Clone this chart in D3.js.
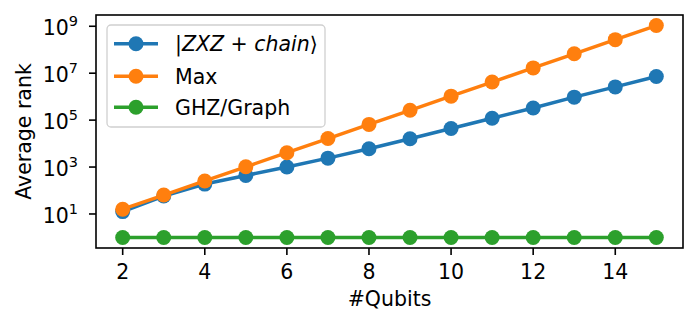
<!DOCTYPE html>
<html>
<head>
<meta charset="utf-8">
<script src="https://cdn.jsdelivr.net/npm/d3@7"></script>
<style>
  body { margin: 0; background: #fff; }
  text { font-family: "DejaVu Sans", sans-serif; fill: #000; }
</style>
</head>
<body>
<svg id="chart" width="698" height="327"></svg>
<script>
var qubits = [2, 3, 4, 5, 6, 7, 8, 9, 10, 11, 12, 13, 14, 15]
var zxzChain = [12.6, 58, 188, 440, 1000, 2400, 6000, 16000, 44000, 120000, 330000, 950000, 2600000, 7200000]
var maxRank = [16, 64, 256, 1024, 4096, 16384, 65536, 262144, 1048576, 4194304, 16777216, 67108864, 268435456, 1073741824]
var ghzGraph = [1, 1, 1, 1, 1, 1, 1, 1, 1, 1, 1, 1, 1, 1]
var xTicks = [2, 4, 6, 8, 10, 12, 14]
var yTickExps = [1, 3, 5, 7, 9]

var series = [
  { name: "zxz", values: zxzChain, color: "#1f77b4" },
  { name: "Max", values: maxRank, color: "#ff7f0e" },
  { name: "GHZ/Graph", values: ghzGraph, color: "#2ca02c" }
]

// plot area in pixels (window.top is reserved, so own names)
var plotL = 96, plotR = 683, plotT = 15, plotB = 248
var fs = "20.5px"

var x = d3.scaleLinear().domain([1.35, 15.65]).range([plotL, plotR])
var y = d3.scaleLog().domain([Math.pow(10, -0.45), Math.pow(10, 9.48)]).range([plotB, plotT])

var svg = d3.select("#chart")
svg.append("rect").attr("width", 698).attr("height", 327).attr("fill", "#fff")

// lines + markers
var line = d3.line()
  .x((d, i) => x(qubits[i]))
  .y(d => y(d))

series.forEach(function(s) {
  var g = svg.append("g")
  g.append("path")
    .attr("d", line(s.values))
    .attr("fill", "none")
    .attr("stroke", s.color)
    .attr("stroke-width", 3.5)
    .attr("stroke-linejoin", "round")
  g.selectAll("circle")
    .data(s.values)
    .enter()
    .append("circle")
    .attr("cx", (d, i) => x(qubits[i]))
    .attr("cy", d => y(d))
    .attr("r", 7.5)
    .attr("fill", s.color)
})

// frame
svg.append("rect")
  .attr("x", plotL).attr("y", plotT)
  .attr("width", plotR - plotL).attr("height", plotB - plotT)
  .attr("fill", "none").attr("stroke", "#000").attr("stroke-width", 1.6)

// x axis
var xg = svg.append("g")
xg.selectAll("line").data(xTicks).enter().append("line")
  .attr("x1", d => x(d)).attr("x2", d => x(d))
  .attr("y1", plotB).attr("y2", plotB + 7)
  .attr("stroke", "#000").attr("stroke-width", 1.6)
xg.selectAll("text").data(xTicks).enter().append("text")
  .attr("x", d => x(d)).attr("y", 279)
  .attr("text-anchor", "middle")
  .style("font-size", fs)
  .text(d => d)

// y axis
var yg = svg.append("g")
yg.selectAll("line").data(yTickExps).enter().append("line")
  .attr("x1", plotL - 7).attr("x2", plotL)
  .attr("y1", d => y(Math.pow(10, d))).attr("y2", d => y(Math.pow(10, d)))
  .attr("stroke", "#000").attr("stroke-width", 1.6)
yTickExps.forEach(function(e) {
  var ty = y(Math.pow(10, e))
  var t = yg.append("text")
    .attr("x", 78).attr("y", ty + 9)
    .attr("text-anchor", "end")
    .style("font-size", fs)
  t.append("tspan").text("10")
  t.append("tspan").attr("dy", -9).style("font-size", "14.5px").text(e)
})

// axis labels
svg.append("text")
  .attr("x", (plotL + plotR) / 2).attr("y", 306)
  .attr("text-anchor", "middle")
  .style("font-size", fs)
  .text("#Qubits")

svg.append("text")
  .attr("transform", "translate(31," + ((plotT + plotB) / 2) + ") rotate(-90)")
  .attr("text-anchor", "middle")
  .style("font-size", fs)
  .text("Average rank")

// legend
var lg = svg.append("g")
lg.append("rect")
  .attr("x", 107).attr("y", 25).attr("width", 218).attr("height", 102)
  .attr("rx", 4)
  .attr("fill", "#fff").attr("fill-opacity", 0.8)
  .attr("stroke", "#d0d0d0").attr("stroke-width", 1.3)

var rowY = [43.7, 76.3, 107.3]
series.forEach(function(s, i) {
  lg.append("line")
    .attr("x1", 114).attr("x2", 158)
    .attr("y1", rowY[i]).attr("y2", rowY[i])
    .attr("stroke", s.color).attr("stroke-width", 3.5)
  lg.append("circle")
    .attr("cx", 136).attr("cy", rowY[i]).attr("r", 7.5)
    .attr("fill", s.color)
  var t = lg.append("text")
    .attr("x", 175).attr("y", rowY[i] + 7.5)
    .style("font-size", fs)
  if (s.name == "zxz") {
    t.append("tspan").text("|")
    t.append("tspan").style("font-style", "italic").text("ZXZ")
    t.append("tspan").text(" + ")
    t.append("tspan").style("font-style", "italic").text("chain")
    t.append("tspan").text("⟩")
  } else {
    t.text(s.name)
  }
})
</script>
</body>
</html>
